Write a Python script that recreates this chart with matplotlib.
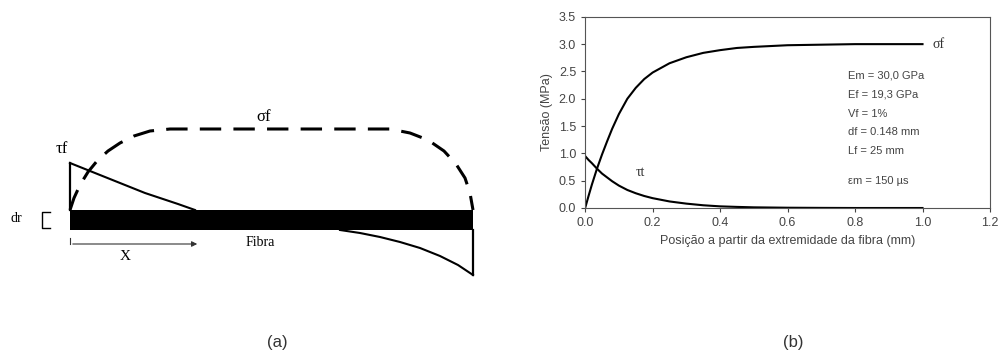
import numpy as np
import matplotlib.pyplot as plt

plt.rcParams['font.family'] = ['Liberation Sans', 'DejaVu Sans']

# (b) curvas
pos = [0.0, 0.01, 0.02, 0.035, 0.05, 0.065, 0.08, 0.1, 0.125, 0.15, 0.175, 0.2, 0.25, 0.3, 0.35, 0.4, 0.45, 0.5, 0.6, 0.7, 0.8, 0.9, 1.0]
sigma_f = [0.0, 0.22, 0.43, 0.72, 0.98, 1.22, 1.45, 1.72, 2.0, 2.2, 2.36, 2.48, 2.65, 2.76, 2.84, 2.89, 2.93, 2.95, 2.98, 2.99, 3.0, 3.0, 3.0]
tau_f = [0.95, 0.88, 0.82, 0.72, 0.63, 0.56, 0.49, 0.41, 0.33, 0.27, 0.22, 0.18, 0.12, 0.08, 0.05, 0.03, 0.02, 0.012, 0.005, 0.002, 0.0, 0.0, 0.0]
xticks = [0.0, 0.2, 0.4, 0.6, 0.8, 1.0, 1.2]
yticks = [0.0, 0.5, 1.0, 1.5, 2.0, 2.5, 3.0, 3.5]
params = ['Em = 30,0 GPa', 'Ef = 19,3 GPa', 'Vf = 1%', 'df = 0.148 mm', 'Lf = 25 mm']

# (a) esquema da fibra (coordenadas em pixels da figura)
tau_esq_x = [70, 85, 100, 115, 130, 145, 160, 178, 195]
tau_esq_y = [163, 169, 175, 181, 187, 193, 198, 204, 210]
tau_dir_x = [340, 360, 380, 400, 420, 440, 458, 473]
tau_dir_y = [230, 233, 237, 242, 248, 256, 265, 275]
sig_x = [70, 74, 80, 88, 97, 108, 120, 134, 150, 170, 390, 410, 428, 444, 456, 465, 470, 473]
sig_y = [210, 198, 185, 172, 161, 151, 143, 136, 131, 129, 129, 133, 140, 151, 164, 178, 193, 210]

fig = plt.figure(figsize=(10.02, 3.58), dpi=100)

# ---- painel (a)
axa = fig.add_axes([0, 0, 1, 1])
axa.set_xlim(0, 1002)
axa.set_ylim(358, 0)
axa.axis('off')
axa.fill_between([70, 473], 210, 230, color='black', lw=0)
axa.plot(tau_esq_x, tau_esq_y, color='black', lw=1.5)
axa.plot([70, 70], [163, 210], color='black', lw=1.6)
axa.plot(tau_dir_x, tau_dir_y, color='black', lw=1.5)
axa.plot([473, 473], [230, 275], color='black', lw=1.6)
axa.plot(sig_x, sig_y, color='black', lw=2.2, ls=(0, (7, 4)))
axa.text(62, 149, 'τf', fontsize=12, ha='center', va='center', family='Liberation Serif')
axa.text(264, 117, 'σf', fontsize=12, ha='center', va='center', family='Liberation Serif')
axa.text(16, 219, 'dr', fontsize=10, ha='center', va='center', family='Liberation Serif')
axa.plot([50, 42, 42, 50], [212, 212, 228, 228], color='black', lw=1)
axa.text(260, 243, 'Fibra', fontsize=10, ha='center', va='center', family='Liberation Serif')
axa.annotate('', xy=(200, 244), xytext=(70, 244),
             arrowprops=dict(arrowstyle='-|>', color='#333333', lw=0.8, mutation_scale=8))
axa.plot([70, 70], [238, 244], color='#333333', lw=0.8)
axa.text(125, 257, 'X', fontsize=11, ha='center', va='center', family='Liberation Serif')
axa.text(277, 343, '(a)', fontsize=12, ha='center', va='center', color='#333333')
axa.text(793, 343, '(b)', fontsize=12, ha='center', va='center', color='#333333')

# ---- painel (b)
ax = fig.add_axes([0.584, 0.419, 0.404, 0.534])
ax.plot(pos, sigma_f, color='black', lw=1.5)
ax.plot(pos, tau_f, color='black', lw=1.5)
ax.set_xlim(0, 1.2)
ax.set_ylim(0, 3.5)
ax.set_xticks(xticks)
ax.set_yticks(yticks)
ax.set_xticklabels(['%.1f' % v for v in xticks])
ax.set_yticklabels(['%.1f' % v for v in yticks])
ax.tick_params(labelsize=9, colors='#444444', direction='out', length=3)
for s in ax.spines.values():
    s.set_color('#555555')
ax.set_xlabel('Posição a partir da extremidade da fibra (mm)', fontsize=9, color='#444444')
ax.set_ylabel('Tensão (MPa)', fontsize=9, color='#444444')
ax.text(1.03, 3.0, 'σf', fontsize=10, va='center', color='#333333', family='Liberation Serif')
ax.text(0.15, 0.65, 'τt', fontsize=10, va='center', color='#333333', family='Liberation Serif')
for i, t in enumerate(params):
    ax.text(0.78, 2.42 - i * 0.345, t, fontsize=8, va='center', color='#444444')
ax.text(0.78, 0.5, 'εm = 150 µs', fontsize=8, va='center', color='#444444')

fig.savefig('out.png', dpi=100)
